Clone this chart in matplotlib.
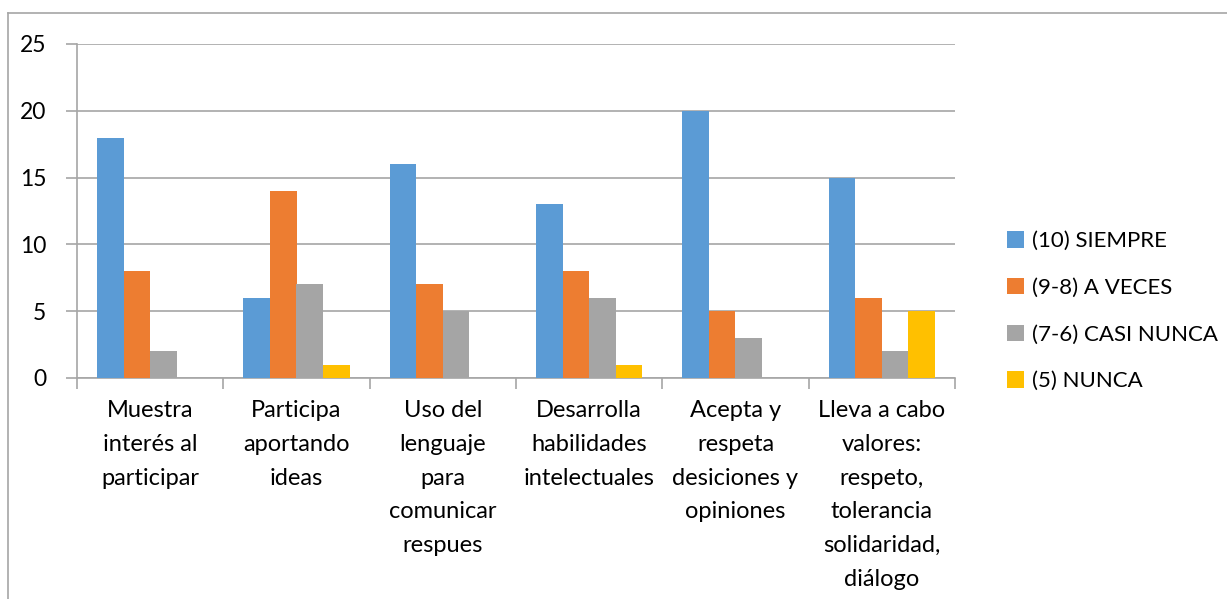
import numpy as np
import matplotlib.pyplot as plt
from matplotlib.patches import Patch
from matplotlib.lines import Line2D

plt.rcParams['font.family'] = ['Lato', 'DejaVu Sans']

categorias = ['Muestra\ninterés al\nparticipar',
              'Participa\naportando\nideas',
              'Uso del\nlenguaje\npara\ncomunicar\nrespues',
              'Desarrolla\nhabilidades\nintelectuales',
              'Acepta y\nrespeta\ndesiciones y\nopiniones',
              'Lleva a cabo\nvalores:\nrespeto,\ntolerancia\nsolidaridad,\ndiálogo']
siempre = [18, 6, 16, 13, 20, 15]
a_veces = [8, 14, 7, 8, 5, 6]
casi_nunca = [2, 7, 5, 6, 3, 2]
nunca = [0, 1, 0, 1, 0, 5]
series = ['(10) SIEMPRE', '(9-8) A VECES', '(7-6) CASI NUNCA', '(5) NUNCA']
colores = ['#5B9BD5', '#ED7D31', '#A5A5A5', '#FFC000']

fig = plt.figure(figsize=(12.27, 5.99), dpi=100)
ax = fig.add_axes([77 / 1227, 1 - 378 / 599, (955 - 77) / 1227, (378 - 44) / 599])

# marco del gráfico (solo arriba e izquierda visibles)
gris = '#A6A6A6'
fig.add_artist(Line2D([8 / 1227, 1], [1 - 13 / 599, 1 - 13 / 599], color=gris, lw=1.2))
fig.add_artist(Line2D([8 / 1227, 8 / 1227], [0, 1 - 13 / 599], color=gris, lw=1.2))

x = np.arange(len(categorias))
w = 1 / 5.5
for i, (vals, c) in enumerate(zip([siempre, a_veces, casi_nunca, nunca], colores)):
    ax.bar(x - 2 * w + (i + 0.5) * w, vals, width=w, color=c, zorder=3)

ax.set_xlim(-0.5, len(categorias) - 0.5)
ax.set_ylim(0, 25)
ax.set_yticks(range(0, 26, 5))
ax.yaxis.grid(True, color=gris, lw=1.2, zorder=0)
ax.tick_params(axis='y', length=8, color=gris, width=1.2, labelsize=16.5, pad=14)

ax.set_xticks(np.arange(-0.5, len(categorias), 1))
ax.set_xticklabels([])
ax.set_xticks(x, minor=True)
ax.set_xticklabels(categorias, minor=True, fontsize=17, linespacing=1.75, va='top')
ax.tick_params(axis='x', which='major', length=8, color=gris, width=1.2)
ax.tick_params(axis='x', which='minor', length=0, pad=16)

for s in ['top', 'right']:
    ax.spines[s].set_visible(False)
for s in ['left', 'bottom']:
    ax.spines[s].set_color(gris)
    ax.spines[s].set_linewidth(1.2)

handles = [Patch(facecolor=c, label=l) for c, l in zip(colores, series)]
fig.legend(handles=handles, loc='upper left', bbox_to_anchor=(996 / 1227, 1 - 220 / 599),
           frameon=False, fontsize=16, handlelength=0.75, handleheight=0.75,
           handletextpad=0.35, labelspacing=1.2, borderpad=0)

fig.savefig('out.png', dpi=100)
